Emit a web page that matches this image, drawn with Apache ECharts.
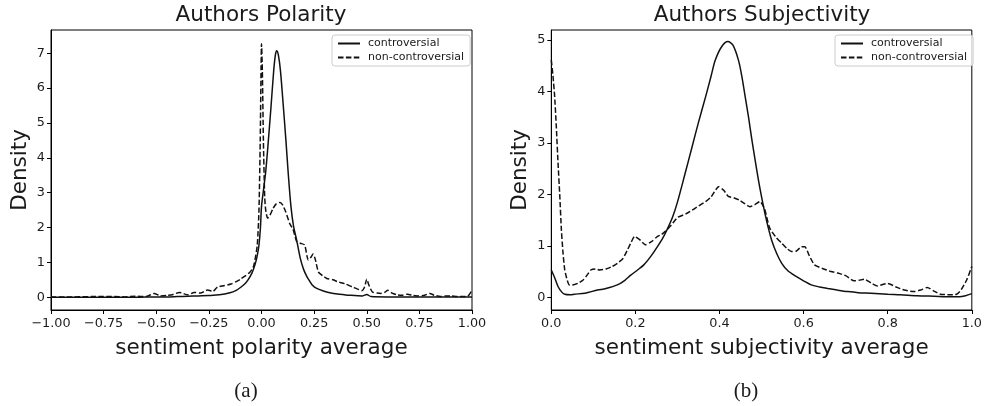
<!DOCTYPE html>
<html>
<head>
<meta charset="utf-8">
<script src="https://cdn.jsdelivr.net/npm/echarts@6/dist/echarts.min.js"></script>
<style>html,body{margin:0;padding:0;background:#fff}#c{width:985px;height:406px}</style>
</head>
<body>
<div id="c"></div>
<script>
// ---------- Data ----------
var seriesNames = ['controversial', 'non-controversial'];
var polTicksX = [-1.0, -0.75, -0.5, -0.25, 0.0, 0.25, 0.5, 0.75, 1.0];
var polTicksY = [0, 1, 2, 3, 4, 5, 6, 7];
var subjTicksX = [0.0, 0.2, 0.4, 0.6, 0.8, 1.0];
var subjTicksY = [0, 1, 2, 3, 4, 5];

// Polarity - controversial (solid)
var polContX = [-1.0, -0.9, -0.8, -0.7, -0.6, -0.5, -0.45, -0.4, -0.35, -0.3, -0.25, -0.2, -0.15, -0.12, -0.1, -0.08, -0.064, -0.045, -0.03, -0.02, -0.012, -0.005, 0.0, 0.01, 0.02, 0.03, 0.045, 0.058, 0.066, 0.072, 0.08, 0.09, 0.104, 0.116, 0.127, 0.14, 0.152, 0.167, 0.185, 0.2, 0.215, 0.23, 0.241, 0.26, 0.294, 0.33, 0.37, 0.42, 0.48, 0.5, 0.52, 0.6, 0.7, 0.8, 0.9, 1.0];
var polContY = [0.0, 0.0, 0.0, 0.0, 0.0, 0.01, 0.01, 0.02, 0.03, 0.04, 0.05, 0.07, 0.13, 0.2, 0.28, 0.38, 0.5, 0.7, 0.95, 1.2, 1.5, 2.0, 2.6, 3.1, 3.6, 4.3, 5.45, 6.5, 6.95, 7.07, 6.95, 6.5, 5.45, 4.5, 3.55, 2.6, 2.05, 1.64, 1.1, 0.8, 0.6, 0.45, 0.35, 0.26, 0.18, 0.12, 0.09, 0.06, 0.04, 0.08, 0.02, 0.01, 0.01, 0.01, 0.01, 0.01];

// Polarity - non-controversial (dashed)
var polNonX = [-1.0, -0.9, -0.8, -0.75, -0.7, -0.65, -0.6, -0.55, -0.51, -0.48, -0.45, -0.42, -0.39, -0.35, -0.32, -0.29, -0.256, -0.23, -0.21, -0.18, -0.145, -0.12, -0.1, -0.075, -0.055, -0.04, -0.031, -0.02, -0.012, -0.006, -0.002, 0.0, 0.004, 0.009, 0.015, 0.02, 0.029, 0.04, 0.055, 0.07, 0.088, 0.1, 0.115, 0.135, 0.15, 0.167, 0.185, 0.205, 0.222, 0.235, 0.245, 0.255, 0.27, 0.29, 0.31, 0.34, 0.36, 0.4, 0.43, 0.455, 0.477, 0.49, 0.5, 0.51, 0.527, 0.55, 0.567, 0.585, 0.6, 0.62, 0.646, 0.67, 0.694, 0.72, 0.741, 0.77, 0.8, 0.82, 0.85, 0.875, 0.9, 0.93, 0.96, 0.98, 1.0];
var polNonY = [0.01, 0.01, 0.02, 0.02, 0.02, 0.01, 0.03, 0.02, 0.11, 0.04, 0.05, 0.08, 0.14, 0.07, 0.14, 0.12, 0.21, 0.17, 0.29, 0.33, 0.38, 0.45, 0.52, 0.62, 0.72, 0.85, 1.07, 1.5, 2.5, 4.5, 6.6, 7.27, 6.5, 4.5, 2.9, 2.5, 2.27, 2.35, 2.55, 2.68, 2.72, 2.65, 2.45, 2.1, 1.95, 1.6, 1.55, 1.5, 1.07, 1.15, 1.24, 1.1, 0.73, 0.62, 0.54, 0.5, 0.45, 0.38, 0.3, 0.24, 0.19, 0.3, 0.52, 0.35, 0.15, 0.12, 0.11, 0.14, 0.2, 0.12, 0.07, 0.06, 0.09, 0.05, 0.04, 0.05, 0.11, 0.06, 0.02, 0.04, 0.04, 0.02, 0.02, 0.03, 0.2];

// Subjectivity - controversial (solid)
var subjContX = [0, 0.008, 0.016, 0.025, 0.032, 0.045, 0.055, 0.08, 0.11, 0.13, 0.157, 0.175, 0.189, 0.205, 0.22, 0.237, 0.252, 0.265, 0.275, 0.288, 0.3, 0.318, 0.335, 0.35, 0.367, 0.38, 0.39, 0.405, 0.42, 0.432, 0.445, 0.453, 0.461, 0.469, 0.477, 0.485, 0.4925, 0.5, 0.508, 0.516, 0.524, 0.536, 0.548, 0.562, 0.579, 0.6, 0.618, 0.638, 0.658, 0.68, 0.705, 0.73, 0.76, 0.8, 0.83, 0.87, 0.91, 0.95, 0.97, 0.985, 1.0];
var subjContY = [0.53, 0.38, 0.21, 0.1, 0.06, 0.05, 0.06, 0.08, 0.14, 0.17, 0.24, 0.33, 0.43, 0.53, 0.63, 0.8, 0.98, 1.15, 1.31, 1.55, 1.85, 2.4, 2.93, 3.4, 3.9, 4.3, 4.61, 4.87, 4.97, 4.9, 4.61, 4.3, 3.9, 3.5, 3.06, 2.65, 2.28, 1.95, 1.63, 1.35, 1.11, 0.85, 0.66, 0.52, 0.42, 0.32, 0.24, 0.2, 0.17, 0.14, 0.11, 0.09, 0.08, 0.06, 0.05, 0.03, 0.02, 0.01, 0.01, 0.03, 0.07];

// Subjectivity - non-controversial (dashed)
var subjNonX = [0, 0.004, 0.008, 0.012, 0.016, 0.02, 0.024, 0.028, 0.032, 0.038, 0.043, 0.05, 0.063, 0.075, 0.085, 0.094, 0.105, 0.115, 0.13, 0.145, 0.157, 0.17, 0.181, 0.19, 0.198, 0.21, 0.224, 0.238, 0.252, 0.262, 0.271, 0.285, 0.3, 0.32, 0.34, 0.367, 0.38, 0.398, 0.41, 0.421, 0.435, 0.449, 0.46, 0.472, 0.484, 0.496, 0.507, 0.519, 0.533, 0.548, 0.56, 0.571, 0.583, 0.595, 0.603, 0.614, 0.626, 0.645, 0.665, 0.681, 0.7, 0.72, 0.732, 0.744, 0.76, 0.776, 0.788, 0.8, 0.82, 0.839, 0.862, 0.878, 0.894, 0.91, 0.925, 0.945, 0.964, 0.975, 0.988, 1.0];
var subjNonY = [4.61, 4.3, 3.9, 3.3, 2.61, 2.0, 1.31, 0.85, 0.53, 0.33, 0.24, 0.24, 0.27, 0.33, 0.43, 0.53, 0.55, 0.53, 0.55, 0.6, 0.66, 0.75, 0.92, 1.07, 1.18, 1.12, 1.02, 1.08, 1.18, 1.22, 1.28, 1.4, 1.55, 1.62, 1.72, 1.86, 1.95, 2.15, 2.08, 1.96, 1.93, 1.88, 1.82, 1.76, 1.8, 1.86, 1.72, 1.35, 1.18, 1.05, 0.95, 0.89, 0.9, 0.98, 0.98, 0.8, 0.63, 0.56, 0.5, 0.47, 0.42, 0.32, 0.33, 0.35, 0.28, 0.22, 0.25, 0.27, 0.2, 0.14, 0.11, 0.14, 0.19, 0.12, 0.06, 0.05, 0.06, 0.15, 0.34, 0.6];

// ---------- Build ----------
function zip(xs, ys) { return xs.map(function (x, i) { return [x, ys[i]]; }); }
var FONT = 'DejaVu Sans';
var TXT = '#1a1a1a';
var solidStyle = { color: '#111', width: 1.5, type: 'solid' };
var dashStyle = { color: '#111', width: 1.5, type: [5.5, 2.4] };

function xAxisCfg(grid, min, max, interval, fmt, name) {
  return {
    type: 'value', gridIndex: grid, min: min, max: max, interval: interval,
    axisLine: { show: true, onZero: false, lineStyle: { color: '#000', width: 1 } },
    axisTick: { show: true, length: 4, lineStyle: { color: '#000' } },
    axisLabel: { show: true, margin: 7, fontSize: 12.8, fontFamily: FONT, color: TXT, formatter: fmt, showMinLabel: true, showMaxLabel: true },
    splitLine: { show: false },
    name: name, nameLocation: 'middle', nameGap: 27,
    nameTextStyle: { fontSize: 21.5, fontFamily: FONT, color: TXT }
  };
}
function yAxisCfg(grid, min, max, ticks) {
  return {
    type: 'value', gridIndex: grid, min: min, max: max,
    axisLine: { show: true, onZero: false, lineStyle: { color: '#000', width: 1 } },
    axisTick: { show: true, length: 4, customValues: ticks, lineStyle: { color: '#000' } },
    axisLabel: { show: true, margin: 6, fontSize: 12.8, fontFamily: FONT, color: TXT, customValues: ticks, formatter: function (v) { return String(Math.round(v)); } },
    splitLine: { show: false },
    name: 'Density', nameLocation: 'middle', nameGap: 20,
    nameTextStyle: { fontSize: 21.5, fontFamily: FONT, color: TXT }
  };
}
function legendCfg(left) {
  return {
    data: seriesNames, orient: 'vertical', left: left, top: 35,
    padding: [3, 6, 3, 5], itemGap: 3, itemWidth: 22, itemHeight: 10,
    backgroundColor: 'rgba(255,255,255,0.8)', borderColor: '#cccccc', borderWidth: 1, borderRadius: 3,
    itemStyle: { color: 'rgba(0,0,0,0)', borderWidth: 0, opacity: 0 },
    textStyle: { fontSize: 11, fontFamily: FONT, color: TXT, padding: [0, 0, 0, 3] },
    selectedMode: false
  };
}

var option = {
  animation: false,
  backgroundColor: '#fff',
  grid: [
    { left: 51, top: 30, width: 421, height: 280, show: true, borderColor: '#000', borderWidth: 1, backgroundColor: 'transparent' },
    { left: 551.3, top: 30, width: 423.7, height: 280, show: true, borderColor: '#000', borderWidth: 1, backgroundColor: 'transparent' }
  ],
  xAxis: [
    xAxisCfg(0, -1, 1, 0.25, function (v) { return v.toFixed(2).replace('-', '\u2212'); }, 'sentiment polarity average'),
    xAxisCfg(1, 0, 1, 0.2, function (v) { return v.toFixed(1); }, 'sentiment subjectivity average')
  ],
  yAxis: [
    yAxisCfg(0, -0.365, 7.665, polTicksY),
    yAxisCfg(1, -0.2475, 5.195, subjTicksY)
  ],
  legend: [legendCfg(332), legendCfg(835)],
  series: [
    { name: seriesNames[0], type: 'line', xAxisIndex: 0, yAxisIndex: 0, data: zip(polContX, polContY), showSymbol: false, symbol: 'none', smooth: 0.3, lineStyle: solidStyle, itemStyle: { color: '#111' } },
    { name: seriesNames[1], type: 'line', xAxisIndex: 0, yAxisIndex: 0, data: zip(polNonX, polNonY), showSymbol: false, symbol: 'none', smooth: 0.2, lineStyle: dashStyle, itemStyle: { color: '#111' } },
    { name: seriesNames[0], type: 'line', xAxisIndex: 1, yAxisIndex: 1, data: zip(subjContX, subjContY), showSymbol: false, symbol: 'none', smooth: 0.3, lineStyle: solidStyle, itemStyle: { color: '#111' } },
    { name: seriesNames[1], type: 'line', xAxisIndex: 1, yAxisIndex: 1, data: zip(subjNonX, subjNonY), showSymbol: false, symbol: 'none', smooth: 0.2, lineStyle: dashStyle, itemStyle: { color: '#111' } }
  ],
  graphic: [
    { type: 'text', x: 261, y: 15.5, style: { text: 'Authors Polarity', font: '21.5px "DejaVu Sans"', fill: TXT, textAlign: 'center', textVerticalAlign: 'middle' } },
    { type: 'text', x: 762, y: 15.5, style: { text: 'Authors Subjectivity', font: '21.5px "DejaVu Sans"', fill: TXT, textAlign: 'center', textVerticalAlign: 'middle' } },
    { type: 'text', x: 246, y: 391, style: { text: '(a)', font: '21px "Liberation Serif"', fill: TXT, textAlign: 'center', textVerticalAlign: 'middle' } },
    { type: 'text', x: 746, y: 391, style: { text: '(b)', font: '21px "Liberation Serif"', fill: TXT, textAlign: 'center', textVerticalAlign: 'middle' } }
  ]
};
var chart = echarts.init(document.getElementById('c'), null, { renderer: 'canvas' });
chart.setOption(option);
</script>
</body>
</html>
